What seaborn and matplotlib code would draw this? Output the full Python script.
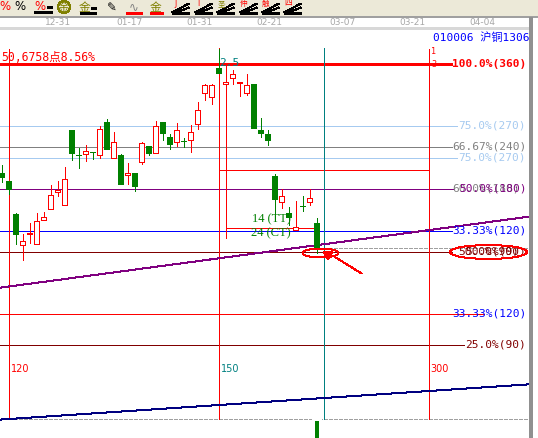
import matplotlib
matplotlib.use("Agg")
import matplotlib.pyplot as plt
import matplotlib.transforms as mtransforms
from matplotlib.patches import Ellipse, Rectangle, Circle, Polygon
import seaborn as sns

sns.set_style("white")
plt.rcParams['font.family'] = ['DejaVu Sans', 'Noto Sans CJK SC']
plt.rcParams['lines.antialiased'] = False
plt.rcParams['patch.antialiased'] = False

# ---- daily bars of 沪铜1306 (yuan/ton) ----
opens = [57720, 57560, 56900, 56280, 56500, 56300, 56780, 57000, 57340, 57080,
         58580, 58080, 58100, 58140, 58080, 58740, 58020, 58080, 57680, 57720,
         57940, 58260, 58120, 58740, 58440, 58340, 58360, 58380, 58700, 59320,
         59240, 59820, 59500, 59620, 59520, 59320, 59500, 58580, 58500, 57660,
         57140, 56920, 56580, 57060, 57140, 56720]
closes = [57640, 57400, 56500, 56360, 56520, 56760, 56840, 57280, 57380, 57600,
          58120, 58070, 58160, 58130, 58600, 58200, 58340, 57500, 57720, 57460,
          58320, 58120, 58660, 58520, 58300, 58580, 58350, 58540, 58980, 59480,
          59480, 59720, 59540, 59700, 59530, 59480, 58620, 58520, 58380, 57200,
          57260, 56840, 56640, 57050, 57220, 56240]
highs = [57880, 57560, 56920, 56500, 56720, 56920, 56940, 57480, 57560, 57840,
         58580, 58220, 58280, 58140, 58660, 58800, 58540, 58100, 57920, 57720,
         58340, 58260, 58760, 58740, 58500, 58720, 58420, 58680, 59140, 59500,
         59500, 60200, 59540, 59780, 59540, 59700, 59500, 58820, 58580, 57700,
         57400, 57040, 57160, 57260, 57400, 56820]
lows = [57540, 57300, 56300, 55980, 56320, 56300, 56780, 57000, 57260, 57080,
        57980, 57820, 57960, 58000, 58020, 58200, 58020, 57500, 57500, 57360,
        57900, 58080, 58120, 58380, 58200, 58260, 58240, 58140, 58600, 59180,
        59100, 59720, 59500, 59500, 59260, 59280, 58620, 58440, 58280, 56840,
        57020, 56680, 56580, 56960, 57080, 56120]

# top of the last volume bar peeking into view
volume_idx = [45]
volume_top = [52800]

date_labels = ["12-31", "01-17", "01-31", "02-21", "03-07", "03-21", "04-04"]
date_pos = [8.1, 18.3, 28.3, 38.3, 48.7, 58.7, 68.7]

# percentage levels of the swing
level_prices = [59900, 58660, 58240, 58020, 57400, 56560, 56140, 54900, 54280]
level_texts = ["100.0%(360)", "75.0%(270)", "66.67%(240)", "75.0%(270)",
               "50.0%(180)", "33.33%(120)", "50.0%(90)", "33.33%(120)", "25.0%(90)"]

# time cycle marks (bar index) and their labels
cycle_bars = [1, 31, 61]
cycle_texts = ["120", "150", "300"]

# trend lines, two anchor bars each
purple_trend = [(0, 55420), (75, 56830)]
navy_trend = [(0, 52780), (75, 53480)]

RED = '#FF0000'
GREEN = '#008000'
LBLUE = '#A6CAF0'
GRAY = '#808080'
PURPLE = '#800080'
BLUE = '#0000FF'
MAROON = '#800000'
NAVY = '#000080'
TEAL = '#008080'
PX = 0.72  # one pixel in points

fig = plt.figure(figsize=(5.38, 4.38), dpi=100, facecolor='white')
ax = fig.add_axes([0, 0, 530 / 538, 410 / 438])
# half-pixel offsets keep bars and levels on pixel centres
ax.set_xlim(-1.5 / 7, 528.5 / 7)
ax.set_ylim(52410, 60610)
ax.set_axis_off()
ax.set_zorder(1)

over = fig.add_axes([0, 0, 1, 1])
over.set_xlim(0, 538)
over.set_ylim(438, 0)
over.set_axis_off()
over.set_zorder(2)

# ---- level lines ----
line_cols = [RED, LBLUE, GRAY, LBLUE, PURPLE, BLUE, MAROON, RED, MAROON]
text_cols = [RED, LBLUE, GRAY, LBLUE, PURPLE, BLUE, MAROON, BLUE, MAROON]
line_end = [64.3, 65.1, 64.4, 65.1, 64.5, 64.4, 64.3, 68.9, 66.1]
text_x = [64.3, 65.3, 64.43, 65.3, 65.43, 64.43, 65.3, 64.43, 66.3]
line_w = [3, 1, 1, 1, 1, 1, 1, 1, 1]
mono = ['DejaVu Sans Mono', 'Noto Sans CJK SC']
for p, t, lc, tc, xe, xt, w in zip(level_prices, level_texts, line_cols, text_cols,
                                   line_end, text_x, line_w):
    ax.hlines(p, -1, xe, color=lc, lw=w * PX, zorder=2)
    ax.text(xt, p, t, color=tc, fontsize=8, family=mono, va='center', ha='left',
            fontweight='bold' if w == 3 else 'normal', zorder=5)
# overlapped duplicate labels
ax.text(64.43, level_prices[4], "60.0%(180)", color=GRAY, fontsize=8, family=mono,
        va='center', ha='left', zorder=4)
ax.text(66.3, level_prices[6], "50.0%(90)", color=MAROON, fontsize=8, family=mono,
        va='center', ha='left', zorder=4)

# partial segments
ax.hlines(57780, 31, 61, color=RED, lw=PX, zorder=2)
ax.hlines(56620, 32, 44.57, color=RED, lw=PX, zorder=2)
ax.hlines(56220, 46, 80, color='#A0A0A0', lw=PX, linestyles=(0, (4, 2)), zorder=2)
ax.hlines(52800, -1, 80, color='#A0A0A0', lw=PX, linestyles=(0, (4, 2)), zorder=2)
ax.hlines(52420, -1, 68.1, color=RED, lw=PX, zorder=2)

# vertical cycle lines
ax.vlines([1, 31, 61], 52800, [60200, 60220, 60200], color=RED, lw=PX, zorder=2)
ax.vlines(32, 56420, 59860, color=RED, lw=PX, zorder=2)
ax.vlines(46, 52800, 60220, color=TEAL, lw=PX, zorder=2)
for b, t, c in zip(cycle_bars, cycle_texts, [RED, TEAL, RED]):
    ax.text(b + 0.3, 53780, t, color=c, fontsize=7, va='center', ha='left', zorder=5)

# trend lines
ax.axline(purple_trend[0], purple_trend[1], color=PURPLE, lw=PX, zorder=2)
ax.axline(navy_trend[0], navy_trend[1], color=NAVY, lw=PX, zorder=2)

# ---- candlesticks ----
idx = list(range(len(opens)))
up = [c > o for o, c in zip(opens, closes)]
cols = [RED if u else GREEN for u in up]
faces = ['white' if u else GREEN for u in up]
bottoms = [min(o, c) for o, c in zip(opens, closes)]
heights = [max(abs(c - o), 10) for o, c in zip(opens, closes)]
ax.vlines(idx, lows, highs, colors=cols, lw=PX, zorder=6)
ax.bar(idx, heights, bottom=bottoms, width=0.72, color=faces, edgecolor=cols,
       linewidth=PX, zorder=7)
ax.bar(volume_idx, [v - 52400 for v in volume_top], bottom=52400, width=0.86,
       color=GREEN, zorder=7)

# ---- annotations ----
ax.text(0, 60020, "50,6758点8.56%", color=RED, fontsize=8.3, family=mono,
        va='center', ha='left', zorder=5)
ax.text(75.43, 60420, "010006 沪铜1306", color=BLUE, fontsize=8, family=mono,
        va='center', ha='right', zorder=5)
ax.text(31.14, 59900, "2.5", color=TEAL, fontsize=8, family=mono, va='center',
        ha='left', zorder=8)
ax.text(61.4, 60140, "1", color=RED, fontsize=6, family=mono, va='center', ha='left', zorder=5)
ax.text(61.4, 59880, "3", color=RED, fontsize=6, family=mono, va='center', ha='left', zorder=5)
ax.text(41.3, 56780, "14 (TT)", color=GREEN, fontsize=9, family='Liberation Serif',
        va='center', ha='right', zorder=8)
ax.text(41.3, 56500, "24 (CT)", color=GREEN, fontsize=9, family='Liberation Serif',
        va='center', ha='right', zorder=8)

ax.add_patch(Ellipse((69.57, 56130), 11.0, 280, fill=False, edgecolor=RED, lw=PX, zorder=6))
ax.add_patch(Ellipse((45.57, 56110), 5.14, 180, fill=False, edgecolor=RED, lw=PX, zorder=8))
ax.add_patch(Polygon([(46.0, 56130), (47.3, 56130), (46.64, 55980)], closed=True,
                     facecolor=RED, edgecolor=RED, lw=PX, zorder=9))
ax.plot([47.3, 51.43], [56060, 55700], color=RED, lw=PX, zorder=9)

# ---- toolbar and date strip ----
over.add_patch(Rectangle((0, 0), 538, 16, facecolor='#ECE9D8', edgecolor='none'))
over.hlines(16.5, 0, 538, color='#A0A0A0', lw=1.4)
over.hlines(28, 0, 530, color='#D8D8D8', lw=0.8)
over.vlines(530.5, 17, 438, color='#909090', lw=1.5)

OLIVE = '#808000'
icon_font = ['DejaVu Sans', 'Noto Sans CJK SC']
for g, c, x in [("%", RED, 5), ("%", 'black', 20), ("%", RED, 40), ("金", OLIVE, 64),
                ("金", OLIVE, 85), ("✎", 'black', 112), ("∿", GRAY, 134), ("金", OLIVE, 156)]:
    over.text(x, 7, g, color=c, fontsize=8.5, family=icon_font, ha='center', va='center')
over.add_patch(Circle((64, 7), 6, fill=False, edgecolor=OLIVE, lw=0.8))
over.hlines(11.5, 34, 52, color='black', lw=0.8)
over.hlines(7, 47, 52, color='black', lw=0.8)
over.hlines(12.5, 80, 96, color='black', lw=0.8)
over.hlines(7.5, 91, 96, color='black', lw=0.8)
over.hlines(12.5, 126, 142, color=RED, lw=1.0)
over.hlines(12.5, 150, 163, color=RED, lw=1.0)
for cx, g, c in [(181, "J", RED), (204, "Γ", RED), (226, "圣", OLIVE),
                 (249, "仲", RED), (271, "触", RED), (293, "四", RED)]:
    over.plot([cx - 9, cx + 8], [12.5, 12.5], color='black', lw=0.8)
    over.plot([cx - 9, cx + 8], [12.5, 3.5], color='black', lw=0.8)
    over.plot([cx - 5, cx + 8], [12.5, 7.5], color='black', lw=0.8)
    over.text(cx - 5, 3.5, g, color=c, fontsize=5.5, family=icon_font,
              ha='center', va='center')

strip = mtransforms.blended_transform_factory(ax.transData, over.transData)
for p, t in zip(date_pos, date_labels):
    over.text(p, 22.5, t, transform=strip, color='#A8A8A8', fontsize=6.5,
              ha='center', va='center')

fig.savefig("out.png", dpi=100, facecolor='white')
